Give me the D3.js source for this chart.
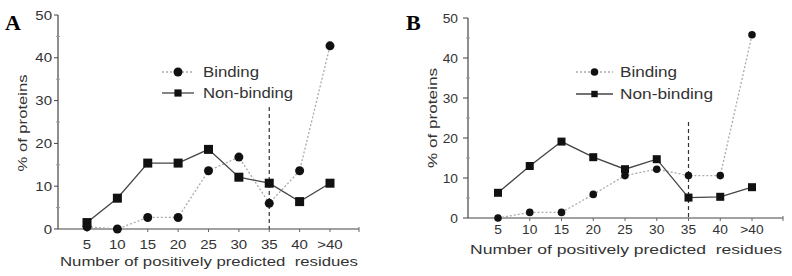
<!DOCTYPE html>
<html><head><meta charset="utf-8">
<script src="https://cdn.jsdelivr.net/npm/d3@7"></script>
<style>body{margin:0;background:#fff}svg{display:block}</style>
</head><body>
<svg id="c" width="792" height="276"></svg>
<script>
const categories = ["5","10","15","20","25","30","35","40",">40"];
const yTicks = [0,10,20,30,40,50];
const bindingA = [0.5,0,2.7,2.7,13.6,16.8,6.0,13.6,42.8];
const nonBindingA = [1.5,7.2,15.4,15.4,18.6,12.1,10.7,6.4,10.7];
const bindingB = [0,1.4,1.4,5.9,10.6,12.2,10.6,10.6,45.8];
const nonBindingB = [6.3,13,19.1,15.2,12.2,14.7,5.1,5.3,7.7];
const cutoffA = {cat:"35", top:28.5};
const cutoffB = {cat:"35", top:24};

const svg = d3.select("#c");
const FONT = "Liberation Sans, Arial, sans-serif";

function txt(g, t, x, y, size, anchor, stretch, opts){
  const el = g.append("text").attr("x",x).attr("y",y).attr("text-anchor",anchor||"start")
    .attr("font-family",FONT).attr("font-size",size).attr("fill","#333")
    .style("white-space","pre").text(t);
  if(opts && opts.dy) el.attr("dy",opts.dy);
  if(opts && opts.transform) el.attr("transform",opts.transform);
  const L = el.node().getComputedTextLength();
  const target = (opts && opts.len) ? opts.len : L*(stretch||1);
  el.attr("textLength",target).attr("lengthAdjust","spacingAndGlyphs");
  return el;
}

function panel(cfg){
  const g = svg.append("g");
  const x = d3.scalePoint().domain(categories).range([cfg.x0, cfg.x1]);
  const y = d3.scaleLinear().domain([0,50]).range([cfg.y0, cfg.y1]);
  g.append("text").attr("x",cfg.lx).attr("y",cfg.ly).text(cfg.letter)
    .attr("font-family","Liberation Serif, Times New Roman, serif").attr("font-weight","bold")
    .attr("font-size",22).attr("fill","#000");
  // y axis
  g.append("line").attr("x1",cfg.ax).attr("x2",cfg.ax).attr("y1",y(50)).attr("y2",y(0)).attr("stroke","#444").attr("stroke-width",1.2);
  yTicks.forEach(t=>{
    g.append("line").attr("x1",cfg.ax-cfg.tl).attr("x2",cfg.ax).attr("y1",y(t)).attr("y2",y(t)).attr("stroke","#444");
    txt(g, String(t), cfg.ax-cfg.lg, y(t), cfg.fs, "end", cfg.st, {dy:"0.36em"});
  });
  [5,15,25,35,45].forEach(t=>{
    g.append("line").attr("x1",cfg.ax-2).attr("x2",cfg.ax+2).attr("y1",y(t)).attr("y2",y(t)).attr("stroke","#999");
  });
  // x axis
  g.append("line").attr("x1",cfg.ax).attr("x2",cfg.axEnd).attr("y1",y(0)).attr("y2",y(0)).attr("stroke","#444").attr("stroke-width",1.2);
  categories.forEach(c=>{
    g.append("line").attr("x1",x(c)).attr("x2",x(c)).attr("y1",y(0)).attr("y2",y(0)+3).attr("stroke","#666");
    txt(g, c, x(c), cfg.tickY, cfg.fs, "middle", cfg.st);
  });
  g.append("line").attr("x1",cfg.axEnd).attr("x2",cfg.axEnd).attr("y1",y(0)-2).attr("y2",y(0)+3).attr("stroke","#666");
  // titles
  txt(g, "Number of positively predicted  residues", cfg.ax+2, cfg.titleY, 13.5, "start", 1, {len:cfg.axEnd-cfg.ax-3});
  txt(g, "% of proteins", 0, 0, 13.5, "middle", 1, {len:cfg.ylen, transform:`translate(${cfg.ytx},${cfg.yty}) rotate(-90)`});
  // cutoff
  g.append("line").attr("x1",x(cfg.cut.cat)).attr("x2",x(cfg.cut.cat)).attr("y1",y(cfg.cut.top)).attr("y2",y(0))
    .attr("stroke","#333").attr("stroke-width",1.2).attr("stroke-dasharray","4,3");
  const line = d3.line().x((d,i)=>x(categories[i])).y(d=>y(d));
  g.append("path").attr("d",line(cfg.bind)).attr("fill","none").attr("stroke","#aaa").attr("stroke-width",1.3).attr("stroke-dasharray","2,2");
  g.append("path").attr("d",line(cfg.non)).attr("fill","none").attr("stroke","#444").attr("stroke-width",1.3);
  g.selectAll(null).data(cfg.bind).enter().append("circle")
    .attr("cx",(d,i)=>x(categories[i])).attr("cy",d=>y(d)).attr("r",cfg.r).attr("fill","#111");
  g.selectAll(null).data(cfg.non).enter().append("rect")
    .attr("x",(d,i)=>x(categories[i])-cfg.s/2).attr("y",d=>y(d)-cfg.s/2).attr("width",cfg.s).attr("height",cfg.s).attr("fill","#111");
  // legend
  const L = cfg.leg;
  g.append("line").attr("x1",L.x0).attr("x2",L.x1).attr("y1",L.y0).attr("y2",L.y0).attr("stroke","#aaa").attr("stroke-width",1.3).attr("stroke-dasharray","2,2");
  g.append("circle").attr("cx",(L.x0+L.x1)/2).attr("cy",L.y0).attr("r",cfg.r).attr("fill","#111");
  g.append("line").attr("x1",L.x0).attr("x2",L.x1).attr("y1",L.y1).attr("y2",L.y1).attr("stroke","#444").attr("stroke-width",1.3);
  g.append("rect").attr("x",(L.x0+L.x1)/2-cfg.s*0.4).attr("y",L.y1-cfg.s*0.4).attr("width",cfg.s*0.8).attr("height",cfg.s*0.8).attr("fill","#111");
  txt(g, "Binding", L.tx, L.y0, 14.5, "start", 1, {dy:"0.36em", len:L.w0});
  txt(g, "Non-binding", L.tx, L.y1, 14.5, "start", 1, {dy:"0.36em", len:L.w1});
}

panel({letter:"A",lx:5,ly:30,x0:87,x1:330,y0:229,y1:15,ax:58,axEnd:359,fs:12.5,st:1.2,tl:4,lg:6,tickY:249,titleY:266,ytx:27,yty:123,ylen:97,
  cut:cutoffA,bind:bindingA,non:nonBindingA,r:4.5,s:9,
  leg:{x0:162,x1:194,y0:72,y1:93,tx:203,w0:56,w1:90}});
panel({letter:"B",lx:406,ly:30,x0:498,x1:752,y0:218,y1:18,ax:468,axEnd:783,fs:12.5,st:1.1,tl:5,lg:10,tickY:234,titleY:254,ytx:437,yty:118,ylen:100,
  cut:cutoffB,bind:bindingB,non:nonBindingB,r:3.8,s:8,
  leg:{x0:576,x1:613,y0:72,y1:94,tx:620,w0:57,w1:93}});
</script>
</body></html>
